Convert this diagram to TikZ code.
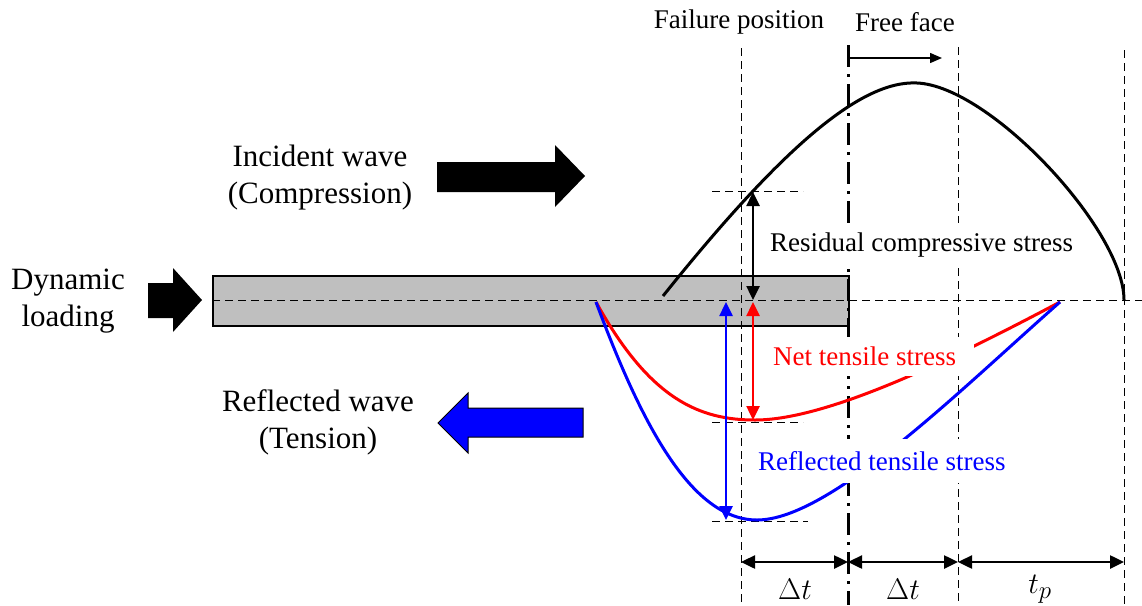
\documentclass[tikz,border=0pt]{standalone}
\usepackage{fontspec}
\setmainfont{Liberation Serif}
\usetikzlibrary{arrows.meta}
\definecolor{bargray}{RGB}{191,191,191}
\definecolor{pred}{RGB}{255,0,0}
\definecolor{pblue}{RGB}{0,0,255}
\newcommand{\bigmath}[1]{\scalebox{1.2}{$#1$}}
\tikzset{
  bigtxt/.style={font=\fontsize{31}{37}\selectfont, align=center, inner sep=0pt},
  smtxt/.style={font=\fontsize{27}{32}\selectfont, inner sep=0pt},
  masktxt/.style={font=\fontsize{27}{32}\selectfont, fill=white, inner xsep=12pt, inner ysep=10pt},
  mathtxt/.style={font=\fontsize{24.88}{30}\selectfont, inner sep=0pt},
  guide/.style={line width=1pt, dash pattern=on 8pt off 5pt},
  faceline/.style={line width=3pt, dash pattern=on 22pt off 7pt on 3pt off 7pt},
  wave/.style={line width=3pt},
  dimarrow/.style={line width=2.5pt, {Triangle[length=14pt,width=13pt]}-{Triangle[length=14pt,width=13pt]}},
  blockarrow/.style={draw=black, line width=1pt},
}
\begin{document}
\begin{tikzpicture}[x=1pt,y=-1pt]
\useasboundingbox (0,0) rectangle (1142,605);

% bar
\node[draw=black, line width=2pt, fill=bargray, minimum width=636pt, minimum height=50pt, inner sep=0pt, anchor=north west] (bar) at (212,275) {};

% guide lines
\coordinate (fpTop) at (741,48);  \coordinate (fpBot) at (741,605);
\coordinate (ffTop) at (848,45);  \coordinate (ffBot) at (848,605);
\coordinate (g3Top) at (958,47);  \coordinate (g3Bot) at (958,605);
\coordinate (g4Top) at (1124,50); \coordinate (g4Bot) at (1124,605);
\draw[guide] (fpTop) -- (fpBot);
\draw[guide] (g3Top) -- (g3Bot);
\draw[guide] (g4Top) -- (g4Bot);
\draw[faceline] (ffTop) -- (ffBot);

\coordinate (axL) at (212,300); \coordinate (axR) at (1142,300);
\draw[guide] (axL) -- (axR);

\coordinate (h1L) at (712,191); \coordinate (h1R) at (803,191);
\coordinate (h2L) at (712,422); \coordinate (h2R) at (803,422);
\coordinate (h3L) at (712,521); \coordinate (h3R) at (808,521);
\draw[guide] (h1L) -- (h1R);
\draw[guide] (h2L) -- (h2R);
\draw[guide] (h3L) -- (h3R);

% waves
\coordinate (cS) at (663,296); \coordinate (cP) at (917,83); \coordinate (cE) at (1124,300);
\draw[wave] (cS) .. controls (780,150) and (860,80) .. (cP) .. controls (990,86) and (1124,230) .. (cE);

\coordinate (wS) at (596,302); \coordinate (wE) at (1060,302);
\coordinate (rMin) at (755,420); \coordinate (bMin) at (757,520);
\draw[wave, pred] (wS) .. controls (650,400) and (700,420) .. (rMin) .. controls (830,420) and (960,355) .. (wE);
\draw[wave, pblue] (wS) .. controls (640,420) and (690,520) .. (bMin) .. controls (830,520) and (960,390) .. (wE);

% stress arrows
\coordinate (kTop) at (753,192); \coordinate (kBot) at (753,300);
\coordinate (rTop) at (753,302); \coordinate (rBot) at (753,420);
\coordinate (bTop) at (726,302); \coordinate (bBot) at (726,520);
\draw[dimarrow, black] (kTop) -- (kBot);
\draw[dimarrow, pred] (rTop) -- (rBot);
\draw[dimarrow, pblue] (bTop) -- (bBot);

% dimension arrows
\coordinate (d1) at (741,562); \coordinate (d2) at (848,562);
\coordinate (d3) at (958,562); \coordinate (d4) at (1124,562);
\draw[dimarrow] (d1) -- (d2);
\draw[dimarrow] (d2) -- (d3);
\draw[dimarrow] (d3) -- (d4);

% free face arrow
\coordinate (faL) at (850,58); \coordinate (faR) at (942,58);
\draw[line width=1.5pt, -{Triangle[length=12pt,width=10pt]}] (faL) -- (faR);

% block arrows
\fill[black] (437,162) -- (555,162) -- (555,145) -- (585,176) -- (555,207) -- (555,192) -- (437,192) -- cycle;
\fill[black] (148,283) -- (173,283) -- (173,268) -- (202,300) -- (173,332) -- (173,318) -- (148,318) -- cycle;
\filldraw[fill=pblue, blockarrow] (583,408) -- (468,408) -- (468,393) -- (438,423) -- (468,453) -- (468,437) -- (583,437) -- cycle;

% labels
\node[smtxt] (failpos) at (739,22) {Failure position};
\node[smtxt] (freeface) at (905,22) {Free face};
\node[bigtxt] (incident) at (320,178) {Incident wave\\(Compression)};
\node[bigtxt] (dynamic) at (68,301) {Dynamic\\loading};
\node[bigtxt] (reflected) at (318,422) {Reflected wave\\(Tension)};
\node[masktxt, anchor=west, inner xsep=10pt] (resid) at (760,245) {Residual compressive stress};
\node[masktxt, anchor=west, text=pred, inner xsep=0pt] (nettens) at (773,356) {\hspace*{0pt}Net tensile stress\hspace*{18pt}};
\node[masktxt, anchor=west, text=pblue, inner xsep=6pt, inner ysep=12pt] (refltens) at (752,461) {Reflected tensile stress};
\node[mathtxt] (dt1) at (795,589) {\bigmath{\Delta t}};
\node[mathtxt] (dt2) at (903,589) {\bigmath{\Delta t}};
\node[mathtxt] (tp) at (1040,589) {\bigmath{t_p}};
\end{tikzpicture}
\end{document}
